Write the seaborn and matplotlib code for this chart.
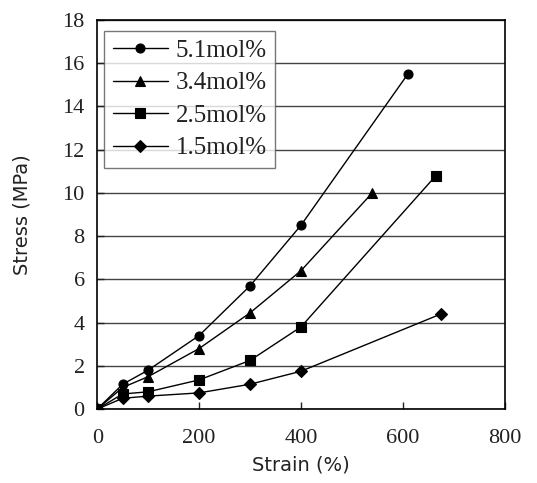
import matplotlib
matplotlib.use("Agg")
import matplotlib.pyplot as plt
import seaborn as sns
import pandas as pd

series_names = ["5.1mol%", "3.4mol%", "2.5mol%", "1.5mol%"]
strain_51 = [0, 50, 100, 200, 300, 400, 610]
stress_51 = [0, 1.15, 1.8, 3.4, 5.7, 8.5, 15.5]
strain_34 = [0, 50, 100, 200, 300, 400, 540]
stress_34 = [0, 1.0, 1.5, 2.8, 4.45, 6.4, 10.0]
strain_25 = [0, 50, 100, 200, 300, 400, 665]
stress_25 = [0, 0.7, 0.8, 1.35, 2.25, 3.8, 10.8]
strain_15 = [0, 50, 100, 200, 300, 400, 675]
stress_15 = [0, 0.5, 0.6, 0.75, 1.15, 1.75, 4.4]
x_ticks = [0, 200, 400, 600, 800]
y_ticks = [0, 2, 4, 6, 8, 10, 12, 14, 16, 18]

rows = []
for name, xs, ys in zip(series_names,
                        [strain_51, strain_34, strain_25, strain_15],
                        [stress_51, stress_34, stress_25, stress_15]):
    for x, y in zip(xs, ys):
        rows.append({"Strain": x, "Stress": y, "Series": name})
df = pd.DataFrame(rows)

sns.set_style("white")
plt.rcParams['font.family'] = ['Liberation Serif', 'DejaVu Serif']

fig = plt.figure(figsize=(5.37, 4.83), dpi=100)
ax = fig.add_axes([0.181, 0.153, 0.759, 0.806])

markers = {"5.1mol%": "o", "3.4mol%": "^", "2.5mol%": "s", "1.5mol%": "D"}
palette = {n: "black" for n in series_names}
sns.lineplot(data=df, x="Strain", y="Stress", hue="Series", style="Series",
             markers=markers, dashes=False, palette=palette, ax=ax,
             linewidth=1.0, markersize=6.5, sort=False, estimator=None,
             markeredgecolor="black", markeredgewidth=0.8)

ax.set_xlim(0, 800)
ax.set_ylim(0, 18)
ax.set_xticks(x_ticks)
ax.set_yticks(y_ticks)
ax.yaxis.grid(True, color="#444444", linewidth=1.0)
ax.xaxis.grid(False)
ax.set_axisbelow(True)
for s in ax.spines.values():
    s.set_color("black")
    s.set_linewidth(1.2)
ax.tick_params(axis="both", direction="in", length=5, width=1, labelsize=16,
               colors="#222222", bottom=True, left=True)
ax.tick_params(axis="x", pad=14)
ax.tick_params(axis="y", pad=9)
ax.set_xlabel("Strain (%)", fontsize=14, family=["DejaVu Sans"], color="#222222",
              labelpad=6)
ax.set_ylabel("Stress (MPa)", fontsize=14, family=["DejaVu Sans"], color="#222222",
              labelpad=22)

leg = ax.legend(loc="upper left", bbox_to_anchor=(0.005, 0.985), fontsize=18,
                frameon=True, fancybox=False, edgecolor="#555555",
                handlelength=2.2, labelspacing=0.4, borderpad=0.35,
                handletextpad=0.3, borderaxespad=0.2, title=None)
leg.get_frame().set_linewidth(1.0)
for t in leg.get_texts():
    t.set_color("#222222")

fig.savefig("out.png", dpi=100)
